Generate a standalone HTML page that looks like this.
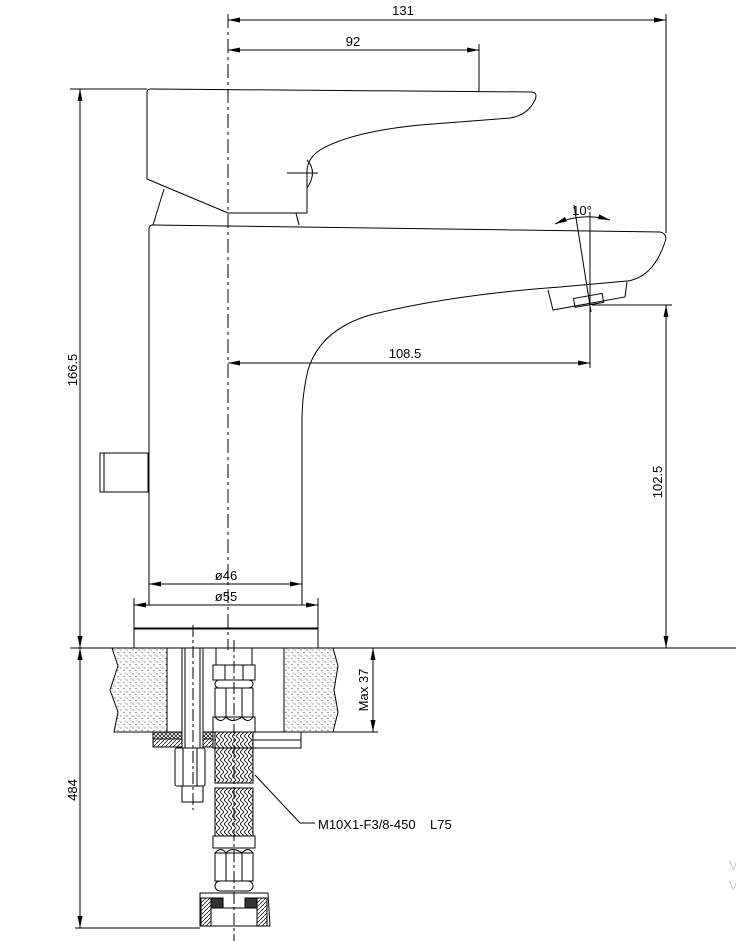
<!DOCTYPE html>
<html><head><meta charset="utf-8"><style>
html,body{margin:0;padding:0;background:#fff;}
svg{display:block;}
text{font-family:"Liberation Sans",sans-serif;font-size:13px;fill:#000;}
</style></head><body>
<svg width="736" height="941" viewBox="0 0 736 941" xmlns="http://www.w3.org/2000/svg">
<defs>
<marker id="a" viewBox="0 0 12 5" refX="12" refY="2.5" markerWidth="12" markerHeight="5" orient="auto-start-reverse"><path d="M0,0 L12,2.5 L0,5 z" fill="#000"/></marker>
<pattern id="dots" width="6" height="6" patternUnits="userSpaceOnUse"><circle cx="1" cy="2" r="0.5" fill="#000"/><circle cx="4" cy="4.5" r="0.5" fill="#000"/><circle cx="5" cy="1" r="0.4" fill="#000"/></pattern>
<pattern id="braid" width="8" height="8" patternUnits="userSpaceOnUse"><path d="M0,0 L4,4 L0,8 M4,0 L8,4 L4,8" stroke="#000" stroke-width="0.8" fill="none"/></pattern>
<pattern id="hatch" width="4" height="4" patternUnits="userSpaceOnUse"><path d="M0,4 L4,0" stroke="#000" stroke-width="0.7"/></pattern>
<pattern id="xh" width="4" height="4" patternUnits="userSpaceOnUse"><path d="M0,4 L4,0 M0,0 L4,4" stroke="#000" stroke-width="0.7"/></pattern>
</defs>
<g stroke="#000" stroke-width="1" fill="none">
<line x1="228" y1="14" x2="228" y2="650" stroke-dasharray="14,4,3,4"/>
<line x1="228" y1="20" x2="666" y2="20" marker-start="url(#a)" marker-end="url(#a)"/>
<line x1="666" y1="14" x2="666" y2="233"/>
<line x1="228" y1="50" x2="479" y2="50" marker-start="url(#a)" marker-end="url(#a)"/>
<line x1="479" y1="44" x2="479" y2="92"/>
<line x1="70" y1="89" x2="147" y2="89"/>
<path d="M147,92 Q147,89 151,89 L532,92 Q538,93 535,100 Q528,115 510,118 L420,125 Q350,132 320,150 Q308,158 307,170 L307,213 L228,213 L147,179 Z"/>
<path d="M307,160 Q318,172 307,188"/>
<line x1="287" y1="173" x2="318" y2="173"/>
<line x1="164" y1="189" x2="153" y2="225"/>
<line x1="296" y1="213" x2="299" y2="225"/>
<path d="M149,605 L149,229 Q149,225 153,225 L660,232 Q668,234 665,242 Q655,272 635,279 Q630,281 627,281 L560,287 Q450,295 370,315 Q320,330 308,370 Q302,395 302,420 L302,605"/>
<path d="M548,290 L553,310 L625,297 L627,282"/>
<rect x="574" y="296" width="29" height="9" transform="rotate(-10 588 300)"/>
<line x1="590" y1="212" x2="590" y2="368"/>
<line x1="574" y1="205" x2="591" y2="312"/>
<path d="M555,224 Q582,212 610,220" marker-start="url(#a)" marker-end="url(#a)"/>
<rect x="100" y="453" width="48" height="39"/>
<line x1="104" y1="453" x2="104" y2="492"/>
<line x1="228" y1="363" x2="590" y2="363" marker-start="url(#a)" marker-end="url(#a)"/>
<line x1="592" y1="305" x2="672" y2="305"/>
<line x1="666" y1="305" x2="666" y2="648" marker-start="url(#a)" marker-end="url(#a)"/>
<line x1="80" y1="89" x2="80" y2="648" marker-start="url(#a)" marker-end="url(#a)"/>
<line x1="80" y1="648" x2="80" y2="928" marker-start="url(#a)" marker-end="url(#a)"/>
<line x1="149" y1="584" x2="302" y2="584" marker-start="url(#a)" marker-end="url(#a)"/>
<line x1="134" y1="605" x2="318" y2="605" marker-start="url(#a)" marker-end="url(#a)"/>
<line x1="134" y1="598" x2="134" y2="628"/><line x1="318" y1="598" x2="318" y2="628"/>
<rect x="134" y="628" width="184" height="20"/>
<line x1="134" y1="629" x2="318" y2="629"/>
<line x1="70" y1="648" x2="736" y2="648"/>
<path d="M117,648 L112,648 L118,666 L110,690 L118,712 L114,732 L167,732 L167,648 Z" fill="url(#dots)"/>
<path d="M284,648 L333,648 L338,666 L334,690 L338,712 L333,732 L284,732 Z" fill="url(#dots)"/>
<line x1="284" y1="732" x2="378" y2="732"/>
<line x1="373" y1="648" x2="373" y2="732" marker-start="url(#a)" marker-end="url(#a)"/>
<rect x="182" y="648" width="21" height="100"/>
<line x1="185" y1="648" x2="185" y2="748"/><line x1="200" y1="648" x2="200" y2="748"/>
<rect x="153" y="732" width="29" height="7" fill="url(#xh)"/>
<rect x="153" y="739" width="29" height="8" fill="url(#hatch)"/>
<rect x="203" y="732" width="10" height="7" fill="url(#xh)"/>
<rect x="203" y="739" width="10" height="8" fill="url(#hatch)"/>
<rect x="213" y="732" width="88" height="16"/>
<line x1="253" y1="740" x2="301" y2="740"/>
<rect x="175" y="748" width="30" height="38" rx="2"/>
<line x1="183" y1="748" x2="183" y2="786"/><line x1="197" y1="748" x2="197" y2="786"/>
<rect x="182" y="786" width="21" height="16"/>
<line x1="193" y1="625" x2="193" y2="810" stroke-dasharray="12,3,3,3"/>
<line x1="216" y1="648" x2="216" y2="665"/><line x1="252" y1="648" x2="252" y2="665"/>
<rect x="213" y="665" width="42" height="15"/>
<line x1="225" y1="665" x2="225" y2="680"/><line x1="243" y1="665" x2="243" y2="680"/>
<rect x="215" y="680" width="38" height="8" rx="4"/>
<rect x="215" y="688" width="38" height="29"/>
<line x1="226" y1="688" x2="226" y2="717"/><line x1="242" y1="688" x2="242" y2="717"/>
<path d="M215,717 Q221,724 226,717 Q232,724 242,717 Q248,724 253,717"/>
<rect x="213" y="717" width="42" height="15"/>
<rect x="215" y="732" width="38" height="51" fill="url(#braid)"/>
<rect x="215" y="788" width="38" height="48" fill="url(#braid)"/>
<rect x="213" y="836" width="42" height="12"/>
<path d="M215,853 Q221,846 226,853 Q232,846 242,853 Q248,846 253,853"/>
<rect x="215" y="853" width="38" height="28"/>
<line x1="226" y1="853" x2="226" y2="881"/><line x1="242" y1="853" x2="242" y2="881"/>
<rect x="215" y="881" width="38" height="10" rx="5"/>
<path d="M200,893 L268,893 L270,926 L200,926 Z"/>
<rect x="201" y="898" width="10" height="28" fill="url(#hatch)"/>
<rect x="257" y="898" width="10" height="28" fill="url(#hatch)"/>
<rect x="211" y="898" width="12" height="10" fill="#333"/>
<rect x="245" y="898" width="12" height="10" fill="#333"/>
<line x1="211" y1="908" x2="257" y2="908"/>
<line x1="234" y1="640" x2="234" y2="941" stroke-dasharray="12,3,3,3"/>
<line x1="75" y1="928" x2="200" y2="928"/>
<polyline points="255,775 300,823 315,823"/>
</g>
<text x="403" y="15" text-anchor="middle">131</text>
<text x="353" y="46" text-anchor="middle">92</text>
<text x="405" y="358" text-anchor="middle">108.5</text>
<text x="582" y="215" text-anchor="middle">10°</text>
<text x="226" y="580" text-anchor="middle">ø46</text>
<text x="226" y="601" text-anchor="middle">ø55</text>
<text x="318" y="829">M10X1-F3/8-450&#160;&#160;&#160;&#160;L75</text>
<text transform="translate(77,370) rotate(-90)" text-anchor="middle">166.5</text>
<text transform="translate(77,790) rotate(-90)" text-anchor="middle">484</text>
<text transform="translate(662,482) rotate(-90)" text-anchor="middle">102.5</text>
<text transform="translate(368,690) rotate(-90)" text-anchor="middle">Max 37</text>
<text x="729" y="870" style="fill:#ccc">V</text>
<text x="729" y="890" style="fill:#ccc">V</text>
</svg>
</body></html>
